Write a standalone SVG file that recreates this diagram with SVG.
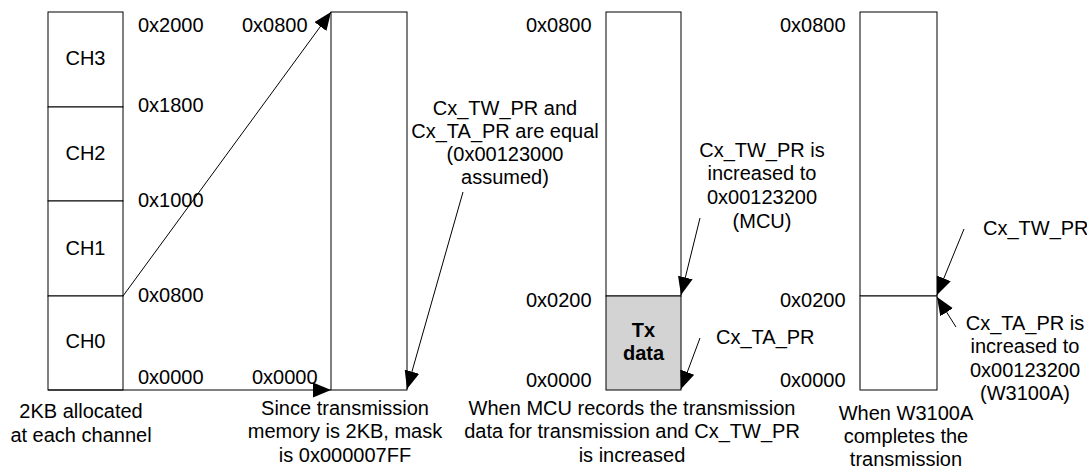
<svg xmlns="http://www.w3.org/2000/svg" width="1087" height="468" viewBox="0 0 1087 468">
<style>
text{font-family:"Liberation Sans",Arial,sans-serif;font-size:20px;fill:#000}
.c{text-anchor:middle}
.b{font-weight:bold}
.box{fill:#fff;stroke:#000;stroke-width:1}
.ln{fill:none;stroke:#000;stroke-width:1}
</style>
<defs>
<marker id="ah" viewBox="0 0 18 15" refX="18" refY="7.5" markerWidth="18" markerHeight="15" markerUnits="userSpaceOnUse" orient="auto">
<path d="M0,0 L18,7.5 L0,15 z" fill="#000"/>
</marker>
</defs>
<rect width="1087" height="468" fill="#fff"/>

<g id="channel-memory">
<rect class="box" x="48" y="12" width="75" height="95"/>
<rect class="box" x="48" y="107" width="75" height="94"/>
<rect class="box" x="48" y="201" width="75" height="95"/>
<rect class="box" x="48" y="296" width="75" height="94"/>
<text class="c" x="85.5" y="65">CH3</text>
<text class="c" x="85.5" y="160">CH2</text>
<text class="c" x="85.5" y="255">CH1</text>
<text class="c" x="85.5" y="348">CH0</text>
<text x="138" y="32">0x2000</text>
<text x="138" y="112">0x1800</text>
<text x="138" y="207">0x1000</text>
<text x="138" y="302">0x0800</text>
<text x="138" y="384">0x0000</text>
<text class="c" x="81" y="418">2KB allocated</text>
<text class="c" x="81" y="442">at each channel</text>
</g>

<g id="tx-memory">
<rect class="box" x="331" y="12" width="76" height="378"/>
<text x="242" y="32">0x0800</text>
<text x="252" y="384">0x0000</text>
<text class="c" x="505" y="115">Cx_TW_PR and</text>
<text class="c" x="505" y="138">Cx_TA_PR are equal</text>
<text class="c" x="505" y="161">(0x00123000</text>
<text class="c" x="505" y="184">assumed)</text>
<text class="c" x="345" y="415">Since transmission</text>
<text class="c" x="345" y="438">memory is 2KB, mask</text>
<text class="c" x="345" y="462">is 0x000007FF</text>
</g>

<g id="mcu-write">
<rect class="box" x="606" y="12" width="75" height="284"/>
<rect x="606" y="296" width="75" height="94" fill="#d3d3d3" stroke="#000" stroke-width="1"/>
<text x="526" y="32">0x0800</text>
<text x="526" y="307">0x0200</text>
<text x="526" y="387">0x0000</text>
<text class="c b" x="643.5" y="337">Tx</text>
<text class="c b" x="643.5" y="360">data</text>
<text class="c" x="762" y="157">Cx_TW_PR is</text>
<text class="c" x="762" y="180">increased to</text>
<text class="c" x="762" y="204">0x00123200</text>
<text class="c" x="762" y="228">(MCU)</text>
<text x="716" y="344">Cx_TA_PR</text>
<text class="c" x="632" y="415">When MCU records the transmission</text>
<text class="c" x="632" y="438">data for transmission and Cx_TW_PR</text>
<text class="c" x="632" y="462">is increased</text>
</g>

<g id="w3100a-complete">
<rect class="box" x="860" y="12" width="77" height="284"/>
<rect x="860" y="296" width="77" height="94" fill="#fff" stroke="#000" stroke-width="1"/>
<line x1="860" y1="296" x2="860" y2="390" stroke="#777" stroke-width="1"/>
<text x="780" y="32">0x0800</text>
<text x="780" y="307">0x0200</text>
<text x="780" y="387">0x0000</text>
<text x="983" y="235">Cx_TW_PR</text>
<text class="c" x="1025" y="330">Cx_TA_PR is</text>
<text class="c" x="1025" y="353">increased to</text>
<text class="c" x="1025" y="377">0x00123200</text>
<text class="c" x="1025" y="400">(W3100A)</text>
<text class="c" x="906" y="420">When W3100A</text>
<text class="c" x="906" y="443">completes the</text>
<text class="c" x="906" y="466">transmission</text>
</g>

<g id="connectors">
<line class="ln" x1="123" y1="296" x2="331" y2="12" marker-end="url(#ah)"/>
<line class="ln" x1="48" y1="390" x2="331" y2="390" marker-end="url(#ah)"/>
<line class="ln" x1="463" y1="192" x2="407" y2="389" marker-end="url(#ah)"/>
<line class="ln" x1="700" y1="218" x2="681" y2="295" marker-end="url(#ah)"/>
<line class="ln" x1="700" y1="338" x2="681" y2="389" marker-end="url(#ah)"/>
<line class="ln" x1="964" y1="229" x2="937" y2="295" marker-end="url(#ah)"/>
<line class="ln" x1="956" y1="327" x2="937" y2="297" marker-end="url(#ah)"/>
</g>
</svg>
